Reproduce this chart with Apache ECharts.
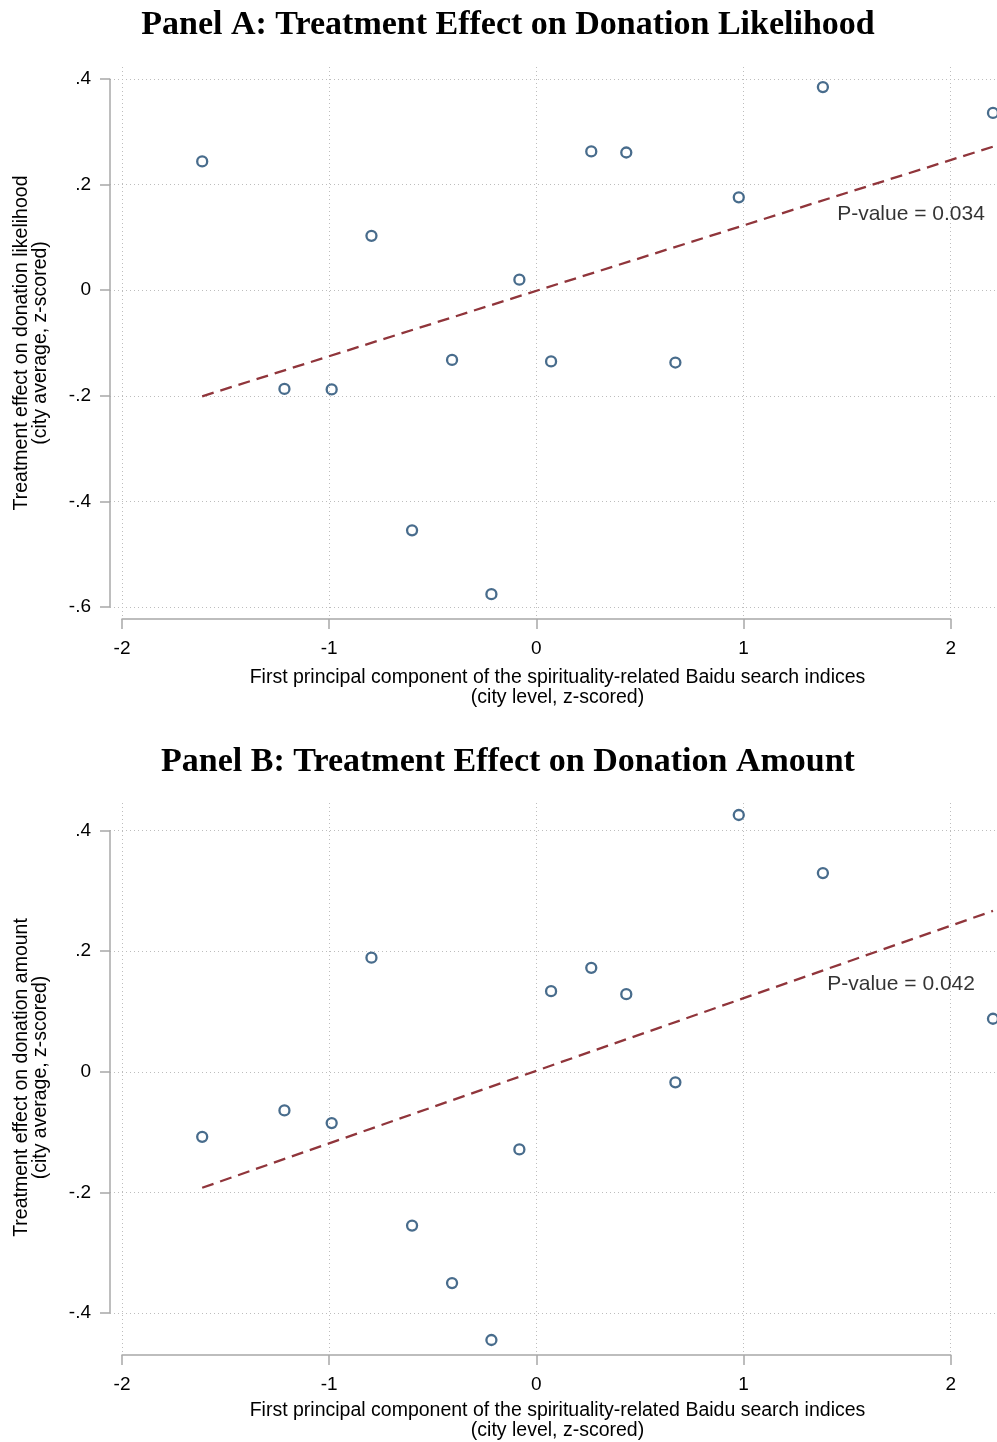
<!DOCTYPE html>
<html>
<head>
<meta charset="utf-8">
<title>Treatment effects vs. spirituality index</title>
<script src="https://cdn.jsdelivr.net/npm/echarts@6/dist/echarts.min.js"></script>
<style>
  html, body { margin: 0; padding: 0; background: #ffffff; overflow: hidden; }
  #chart { width: 1010px; height: 1442px; }
</style>
</head>
<body>
<div id="chart"></div>
<script>
// City-level first principal component of spirituality-related search indices (z-scored)
const spiritualityPC = [-1.613, -1.216, -0.988, -0.796, -0.600, -0.407, -0.217, -0.082, 0.071, 0.265, 0.434, 0.671, 0.977, 1.383, 2.204];

// Treatment effect on donation likelihood (city average, z-scored)
const effectLikelihood = [0.244, -0.187, -0.188, 0.103, -0.455, -0.132, -0.576, 0.020, -0.135, 0.263, 0.261, -0.137, 0.176, 0.385, 0.336];

// Treatment effect on donation amount (city average, z-scored)
const effectAmount = [-0.111, -0.067, -0.088, 0.188, -0.259, -0.355, -0.450, -0.132, 0.132, 0.171, 0.127, -0.020, 0.426, 0.329, 0.086];

// Linear fit endpoints
const fitX = [-1.613, 2.204];
const fitLikelihoodY = [-0.201, 0.272];
const fitAmountY = [-0.196, 0.266];

// Axis ticks
const xTicks = [-2, -1, 0, 1, 2];
const yTicksLikelihood = [-0.6, -0.4, -0.2, 0, 0.2, 0.4];
const yTicksAmount = [-0.4, -0.2, 0, 0.2, 0.4];

// Annotations
const pValueLikelihood = 'P-value = 0.034';
const pValueAmount = 'P-value = 0.042';
const pValuePosLikelihood = [1.452, 0.144];
const pValuePosAmount = [1.404, 0.1435];

const titles = [
  'Panel A: Treatment Effect on Donation Likelihood',
  'Panel B: Treatment Effect on Donation Amount'
];
const xTitle = 'First principal component of the spirituality-related Baidu search indices\n(city level, z-scored)';
const yTitles = [
  'Treatment effect on donation likelihood\n(city average, z-scored)',
  'Treatment effect on donation amount\n(city average, z-scored)'
];

// ---- layout ----
const SANS = '"Liberation Sans", Arial, Helvetica, sans-serif';
const SERIF = '"Liberation Serif", "Times New Roman", serif';
const NAVY = '#1a476f';
const MAROON = '#90353b';
const AXIS_GRAY = '#a8a8a8';
const GRID_GRAY = '#bdbdbd';

const plotLeft = 110;
const plotWidth = 895;
const plotHeight = 552;
const xMin = -2.058, xMax = 2.262;

const panels = [
  { top: 67, yMin: -0.623, yMax: 0.423, yTicks: yTicksLikelihood, ys: effectLikelihood,
    fitY: fitLikelihoodY, pText: pValueLikelihood, pPos: pValuePosLikelihood,
    title: titles[0], yTitle: yTitles[0], titleTop: 3 },
  { top: 803, yMin: -0.470, yMax: 0.446, yTicks: yTicksAmount, ys: effectAmount,
    fitY: fitAmountY, pText: pValueAmount, pPos: pValuePosAmount,
    title: titles[1], yTitle: yTitles[1], titleTop: 740 }
];

function tickFmt(v) {
  const r = Math.round(v * 10) / 10;
  if (r === 0) return '0';
  return r.toFixed(1).replace('0.', '.');
}

const grid = [], xAxis = [], yAxis = [], series = [], title = [];
const kx = plotWidth / (xMax - xMin);

panels.forEach((p, i) => {
  const base = i * 3;
  const ky = plotHeight / (p.yMax - p.yMin);
  const yTop = p.yTicks[p.yTicks.length - 1];
  const yBot = p.yTicks[0];

  title.push({
    text: p.title, left: 503, top: p.titleTop, textAlign: 'center',
    textStyle: { fontFamily: SERIF, fontWeight: 'bold', fontSize: 34, color: '#000' }
  });

  // plot region (data + axis titles)
  grid.push({ left: plotLeft, top: p.top, width: plotWidth, height: plotHeight });
  // x tick range
  grid.push({
    left: plotLeft + (xTicks[0] - xMin) * kx, top: p.top,
    width: (xTicks[xTicks.length - 1] - xTicks[0]) * kx, height: plotHeight
  });
  // y tick range
  grid.push({
    left: plotLeft, top: p.top + (p.yMax - yTop) * ky,
    width: plotWidth, height: (yTop - yBot) * ky
  });

  const hidden = { axisLine: { show: false }, axisTick: { show: false }, axisLabel: { show: false }, splitLine: { show: false } };

  xAxis.push(Object.assign({
    gridIndex: base, type: 'value', min: xMin, max: xMax,
    name: xTitle, nameLocation: 'middle', nameGap: 49,
    nameTextStyle: { fontFamily: SANS, fontSize: 19.5, color: '#000', lineHeight: 20 }
  }, hidden));
  xAxis.push({
    gridIndex: base + 1, type: 'value', min: xTicks[0], max: xTicks[xTicks.length - 1], interval: 1,
    offset: 3,
    axisLine: { show: true, lineStyle: { color: AXIS_GRAY, width: 1.5 } },
    axisTick: { show: true, length: 10, lineStyle: { color: AXIS_GRAY, width: 1.5 } },
    axisLabel: { show: true, margin: 17, fontFamily: SANS, fontSize: 19, color: '#000', formatter: v => String(v) },
    splitLine: { show: true, lineStyle: { color: GRID_GRAY, width: 1, type: [1, 3] } }
  });
  xAxis.push(Object.assign({ gridIndex: base + 2, type: 'value', min: 0, max: 1, show: false }, hidden));

  yAxis.push(Object.assign({
    gridIndex: base, type: 'value', min: p.yMin, max: p.yMax,
    name: p.yTitle, nameLocation: 'middle', nameGap: 60, nameRotate: 90,
    nameTextStyle: { fontFamily: SANS, fontSize: 19.5, color: '#000', lineHeight: 19 }
  }, hidden));
  yAxis.push(Object.assign({ gridIndex: base + 1, type: 'value', min: 0, max: 1, show: false }, hidden));
  yAxis.push({
    gridIndex: base + 2, type: 'value', min: yBot, max: yTop, interval: 0.2,
    offset: 4,
    axisLine: { show: true, lineStyle: { color: AXIS_GRAY, width: 1.5 } },
    axisTick: { show: true, length: 10, lineStyle: { color: AXIS_GRAY, width: 1.5 } },
    axisLabel: { show: true, margin: 15, fontFamily: SANS, fontSize: 19, color: '#000', formatter: tickFmt },
    splitLine: { show: true, lineStyle: { color: GRID_GRAY, width: 1, type: [1, 3] } }
  });

  series.push({
    type: 'scatter', xAxisIndex: base, yAxisIndex: base,
    data: spiritualityPC.map((x, j) => [x, p.ys[j]]),
    symbol: 'circle', symbolSize: 10,
    itemStyle: { color: 'rgba(255,255,255,0)', borderColor: NAVY, borderWidth: 2.3 },
    silent: true, z: 3
  });
  series.push({
    type: 'line', xAxisIndex: base, yAxisIndex: base,
    data: fitX.map((x, j) => [x, p.fitY[j]]),
    showSymbol: false, symbol: 'none',
    lineStyle: { color: MAROON, width: 2.3, type: [12, 7] },
    silent: true, z: 4
  });
  series.push({
    type: 'scatter', xAxisIndex: base, yAxisIndex: base,
    data: [p.pPos], symbolSize: 0, silent: true,
    label: {
      show: true, position: [0, 0], align: 'left', verticalAlign: 'middle',
      formatter: () => p.pText, fontFamily: SANS, fontSize: 21, color: '#000'
    }
  });
});

const chart = echarts.init(document.getElementById('chart'), null, { renderer: 'canvas' });
chart.setOption({
  animation: false,
  backgroundColor: '#ffffff',
  title, grid, xAxis, yAxis, series
});
</script>
</body>
</html>
